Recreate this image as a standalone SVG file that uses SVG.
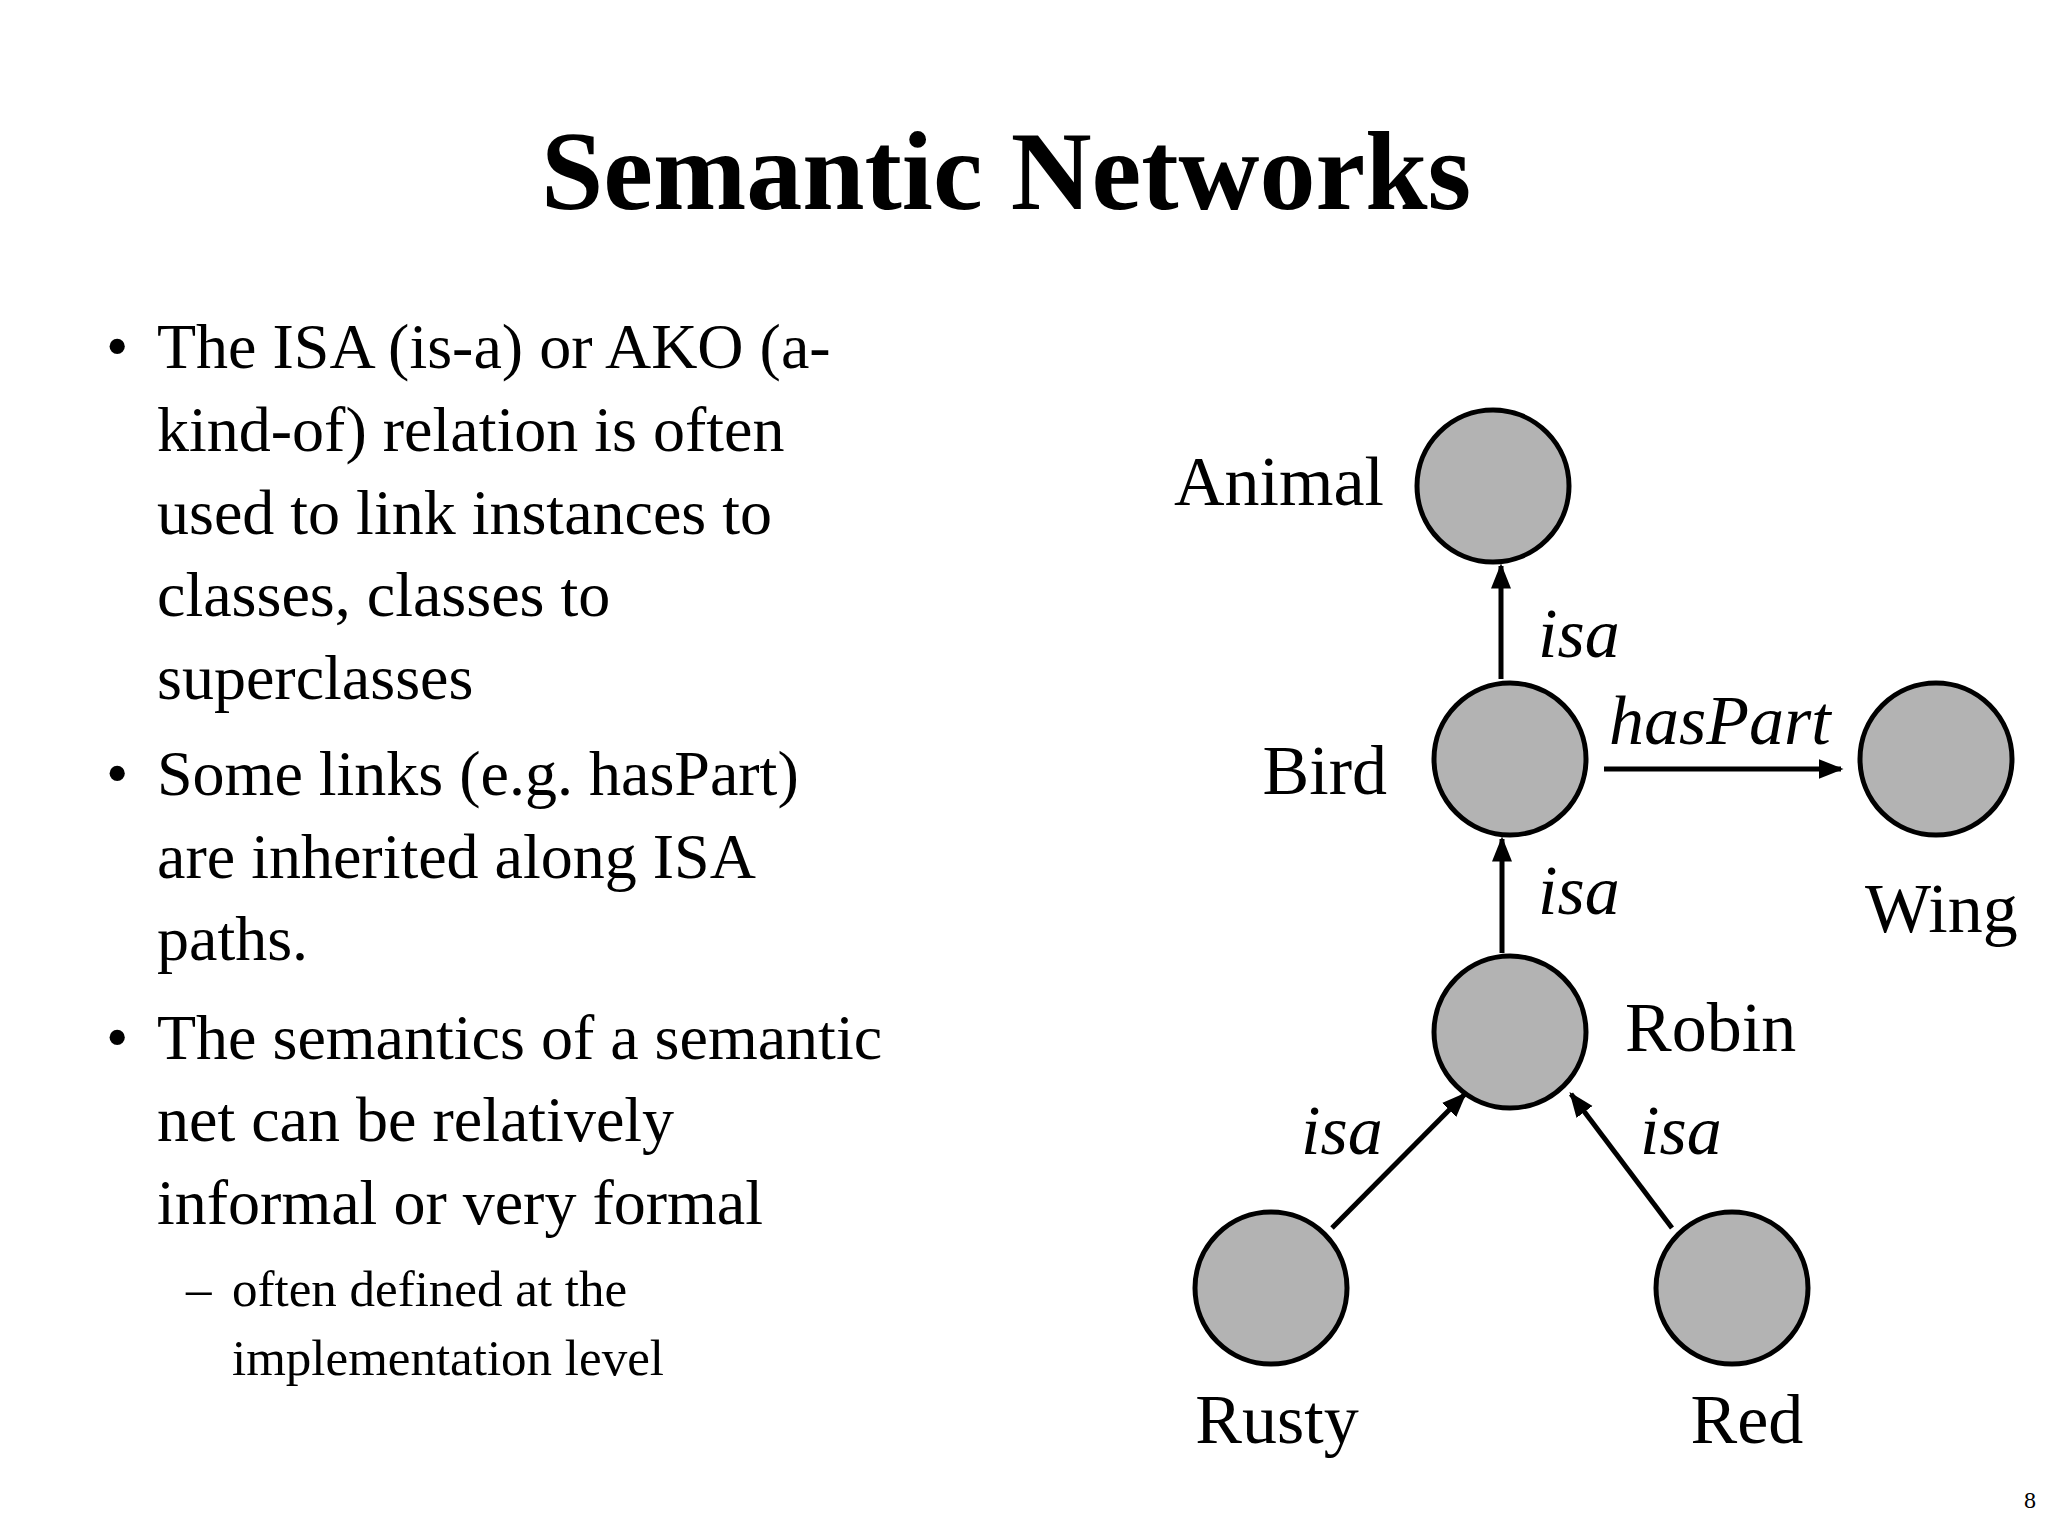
<svg xmlns="http://www.w3.org/2000/svg" width="2048" height="1536" viewBox="0 0 2048 1536">
<defs>
<marker id="ah" viewBox="0 0 10 10" refX="9" refY="5" markerWidth="5" markerHeight="5" markerUnits="strokeWidth" orient="auto"><path d="M0,1 L10,5 L0,9 z" fill="#000"/></marker>
<style>
text{font-family:"Liberation Serif","Times New Roman",serif;fill:#000}
.b{font-size:64px}
.s{font-size:51px}
.l{font-size:70px}
.i{font-size:70px;font-style:italic}
circle{fill:#b3b3b3;stroke:#000;stroke-width:5}
.e{stroke:#000;stroke-width:5;fill:none;marker-end:url(#ah)}
</style>
</defs>
<rect width="2048" height="1536" fill="#fff"/>
<text x="1006" y="209" text-anchor="middle" font-size="112" font-weight="bold">Semantic Networks</text>
<g id="bullets">
<text class="b" x="106" y="368">•</text>
<text class="b" x="157" y="368">The ISA (is-a) or AKO (a-</text>
<text class="b" x="157" y="451">kind-of) relation is often</text>
<text class="b" x="157" y="534">used to link instances to</text>
<text class="b" x="157" y="616">classes, classes to</text>
<text class="b" x="157" y="699">superclasses</text>
<text class="b" x="106" y="795">•</text>
<text class="b" x="157" y="795">Some links (e.g. hasPart)</text>
<text class="b" x="157" y="878">are inherited along ISA</text>
<text class="b" x="157" y="960">paths.</text>
<text class="b" x="106" y="1059">•</text>
<text class="b" x="157" y="1059">The semantics of a semantic</text>
<text class="b" x="157" y="1141">net can be relatively</text>
<text class="b" x="157" y="1224">informal or very formal</text>
<text class="s" x="186" y="1306">–</text>
<text class="s" x="232" y="1306">often defined at the</text>
<text class="s" x="232" y="1375">implementation level</text>
</g>
<g id="connectors">
<line class="e" x1="1501" y1="679" x2="1501" y2="566"/>
<line class="e" x1="1502" y1="953" x2="1502" y2="839"/>
<line class="e" x1="1604" y1="769" x2="1841" y2="769"/>
<line class="e" x1="1332" y1="1228" x2="1465" y2="1094"/>
<line class="e" x1="1672" y1="1228" x2="1571" y2="1094"/>
<text class="i" x="1538" y="657">isa</text>
<text class="i" x="1538" y="914">isa</text>
<text class="i" x="1301" y="1154">isa</text>
<text class="i" x="1640" y="1154">isa</text>
<text class="i" x="1609" y="744">hasPart</text>
</g>
<g id="animal"><circle cx="1493" cy="486" r="76"/><text class="l" x="1384" y="505" text-anchor="end">Animal</text></g>
<g id="bird"><circle cx="1510" cy="759" r="76"/><text class="l" x="1387" y="794" text-anchor="end">Bird</text></g>
<g id="wing"><circle cx="1936" cy="759" r="76"/><text class="l" x="1865" y="932">Wing</text></g>
<g id="robin"><circle cx="1510" cy="1032" r="76"/><text class="l" x="1625" y="1051">Robin</text></g>
<g id="rusty"><circle cx="1271" cy="1288" r="76"/><text class="l" x="1277" y="1443" text-anchor="middle">Rusty</text></g>
<g id="red"><circle cx="1732" cy="1288" r="76"/><text class="l" x="1747" y="1443" text-anchor="middle">Red</text></g>
<text x="2030" y="1508" font-size="24" text-anchor="middle">8</text>
</svg>
